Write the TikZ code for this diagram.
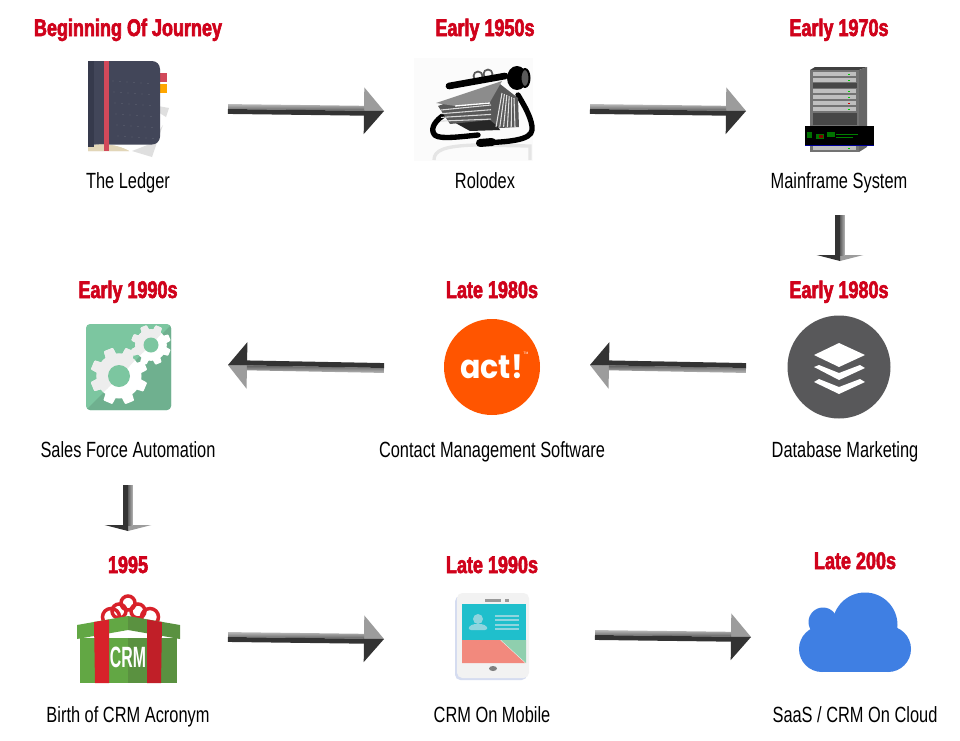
\documentclass[tikz,border=0pt]{standalone}
\usepackage{fontspec}
\usetikzlibrary{calc}
\setmainfont{Liberation Sans}
\newfontfamily\titlefont[FakeStretch=0.75,FakeBold=2.5]{Liberation Sans Bold}
\newfontfamily\labelfont[FakeStretch=0.745]{Liberation Sans}
\newfontfamily\actfont[FakeStretch=0.92]{Poppins Bold}
\newfontfamily\crmfont[FakeStretch=0.54]{Liberation Sans Bold}
\definecolor{titlered}{HTML}{D0021B}
\definecolor{arrgray}{HTML}{9C9C9C}
\definecolor{arrdark}{HTML}{333333}
\definecolor{cover}{HTML}{424659}
\definecolor{spine}{HTML}{363A4C}
\definecolor{ribbon}{HTML}{D2495A}
\definecolor{mint}{HTML}{7CC6A0}
\definecolor{mintd}{HTML}{6FB08F}
\definecolor{giftl}{HTML}{62A744}
\definecolor{giftd}{HTML}{5A9140}
\definecolor{giftr}{HTML}{D8212A}
\definecolor{giftrd}{HTML}{C01F28}
\definecolor{actorange}{HTML}{FF5500}
\definecolor{dbgray}{HTML}{58585A}
\definecolor{cloudblue}{HTML}{3F7FE3}
\definecolor{phonecyan}{HTML}{1FBFCC}
\definecolor{phonesalmon}{HTML}{F2897D}
\definecolor{phonegreen}{HTML}{8FCFAE}
\definecolor{phoneicon}{HTML}{8FD5DE}
\definecolor{phoneshadow}{HTML}{D5DCF0}
\definecolor{beige}{HTML}{E2D6B8}
\tikzset{
  x=.75pt,y=-.75pt,
  yeartext/.style={font=\titlefont\fontsize{18}{20}\selectfont,text=titlered,inner sep=0pt,anchor=base},
  nametext/.style={font=\labelfont\fontsize{16.5}{18}\selectfont,text=black,inner sep=0pt,anchor=base},
}
\newcommand\fatarrow[4]{%
  \coordinate (hb) at ($(#2)!#3*.75pt!(#1)$);
  \fill[arrgray] (hb) -- ($(hb)!17.5pt!90:(#2)$) -- (#2) -- cycle;
  \fill[arrdark] (hb) -- ($(hb)!17.5pt!-90:(#2)$) -- (#2) -- cycle;
  \shade[top color=arrgray!70!white,bottom color=arrgray!60!black,shading=axis,shading angle=#4]
     (#1) -- ($(#1)!3.7pt!90:(#2)$) -- ($(hb)!3.7pt!-90:(#1)$) -- (hb) -- cycle;
  \fill[arrdark] (#1) -- ($(#1)!3.7pt!-90:(#2)$) -- ($(hb)!3.7pt!90:(#1)$) -- (hb) -- cycle;
}
\newcommand\gearbody[4]{% x y router colour
  \begin{scope}[shift={(#1,#2)}]
    \fill[#4] (0,0) circle ({#3*.79});
    \foreach \a in {0,45,...,315}{
      \fill[#4,rotate=\a+22,rounded corners=.6pt] (-#3*.27,0) -- (-#3*.17,-#3) -- (#3*.17,-#3) -- (#3*.27,0) -- cycle;
    }
  \end{scope}
}
\begin{document}
\begin{tikzpicture}
\useasboundingbox (0,0) rectangle (960,740);
\fill[white] (0,0) rectangle (960,740);

% ---------- Ledger
\fill[ribbon] (158,73) rectangle (167,82);
\fill[orange!70!yellow] (158,84) rectangle (167,93);
\fill[gray!25] (158,106) -- (169,108) -- (166,117) -- (158,112) -- cycle;
\fill[gray!25] (132,151) -- (152,157) -- (163,125) -- (150,144) -- cycle;
\fill[beige] (88,151) -- (88,147) .. controls (95,143) and (115,143) .. (129,151) -- cycle;
\fill[cover,rounded corners=6pt] (70,61) rectangle (160,144.5);
\fill[white] (70,55) rectangle (88,150);
\fill[beige] (88,151) -- (88,147) .. controls (95,143) and (115,143) .. (129,151) -- cycle;
\fill[spine] (88,61) rectangle (94,147);
\foreach \i in {0,...,5}{\foreach \j in {0,...,5}{
   \fill[white!35!cover] (113+\i*7+\j*1,81+\j*11+\i*0.5) circle (.4);
}}
\fill[ribbon] (104,61) rectangle (109,151);

% ---------- Rolodex
\fill[black!1.5] (414,58) rectangle (533,161);
\draw[line width=2.5pt,black!10] (434,160) .. controls (434,150) and (445,146) .. (475,145) -- (530,146) -- (530,160);
\draw[line width=1.3pt,black!65] (478,76) circle (4.5);
\draw[line width=1.3pt,black!65] (488,74) circle (4.5);
\draw[line width=4pt,black,line cap=round] (444,115) .. controls (436,120) and (430,128) .. (434,134) .. controls (437,139) and (450,138) .. (478,135);
\draw[line width=4pt,black,line cap=round] (518,95) .. controls (524,105) and (533,120) .. (532,130) .. controls (531,140) and (510,142) .. (480,143);
\draw[line width=6pt,black,line cap=round] (480,143) -- (492,142);
\draw[line width=5pt,black,line cap=round] (449,86) -- (505,76);
\fill[black!85] (450,120) -- (494,120) -- (500,130) -- (470,131) -- cycle;
\fill[black!65] (438,106) -- (500,84) -- (518,98) -- (519,127) -- (500,128) -- (490,120) -- (450,124) -- (442,112) -- cycle;
\foreach \k in {0,1,2,3}{\draw[black!15,line width=.8pt] (441,{110+\k*3.7}) -- (491,{105+\k*4.7});}
\foreach \k in {0,...,5}{\draw[black!12,line width=.8pt] ({502+\k*2.4},{93+\k*1}) -- ({496+\k*3.8},127);}
\fill[black!45] (436,103) -- (502,81) -- (490,102) -- (455,106) -- cycle;
\draw[white,line width=1pt] (455,106) -- (490,103);
\fill[black] (517,78) ellipse (10 and 12);
\draw[black,line width=1.5pt,fill=black!65] (525,78) ellipse (4.5 and 9);

% ---------- Mainframe
\fill[black!75] (810,70) -- (815,67) -- (867,67) -- (859,70) -- cycle;
\fill[black!60] (859,70) -- (867,67) -- (867,147) -- (859,152) -- cycle;
\fill[black!55] (810,70) rectangle (859,152);
\fill[black!72] (813,83) rectangle (857,88);
\fill[black!72] (813,113) rectangle (857,125);
\foreach \ry/\cc in {72/green,78/green,89/green,95/green,101/red,107/green,146/green}{
  \fill[black!25] (813,\ry) rectangle (856,\ry+4.4);
  \fill[\cc!80!black] (847.5,\ry+1.6) rectangle (849.5,\ry+2.8);
}
\fill[black] (805,126) rectangle (874,146);
\fill[green!45!black] (807,132) rectangle (812,138);
\fill[green!45!black] (816,134) rectangle (824,139);
\fill[green!45!black] (827,132) rectangle (835,137);
\fill[red!50!black] (819,135) rectangle (823,138);
\draw[green!50!black,line width=.4pt] (836,134) -- (858,134) (836,137) -- (853,137);
\draw[blue!60!black,line width=.6pt] (805,145) -- (874,145);

% ---------- Database
\fill[dbgray] (839,367) circle (51.5);
\fill[white] (814,355) -- (839,343) -- (865,355) -- (839,367) -- cycle;
\fill[white] (814,367) -- (819,365) -- (839,373) -- (860,365) -- (865,368) -- (839,380) -- cycle;
\fill[white] (814,382) -- (819,379) -- (839,387) -- (860,379) -- (865,382) -- (839,394) -- cycle;

% ---------- Act
\fill[actorange] (492,367) circle (48);
\node[font=\actfont\fontsize{24.5}{26}\selectfont,text=white,inner sep=0pt,anchor=base] (actlogo) at (491.5,378) {act!};
\node[font=\fontsize{2.5}{3}\selectfont,text=white,inner sep=0pt] (tmmark) at (526,353) {TM};

% ---------- Gears
\fill[mint,rounded corners=3pt] (86,324) rectangle (171,410);
\begin{scope}
  \clip[rounded corners=3pt] (86,324) rectangle (171,410);
  \fill[mintd] (86,410) -- (171,325) -- (171,410) -- cycle;
\end{scope}
\gearbody{119}{376}{28.5}{white}
\gearbody{151}{345}{20}{white}
\begin{scope}
  \clip (86,324) -- (171,324) -- (86,410) -- cycle;
  \gearbody{119}{376}{28.5}{black!7}
  \gearbody{151}{345}{20}{black!7}
\end{scope}
\fill[mint] (119,376) circle (11);
\fill[mint] (151,345) circle (7.5);

% ---------- Gift
\foreach \cx/\cy/\cr in {128/603/7,119/611/7,138/611/7,111/617/8.5,150/617/8.5}{
  \draw[giftr,line width=2.6pt] (\cx,\cy) circle (\cr);
}
\fill[giftl] (80,638) rectangle (128,683);
\fill[giftd] (128,638) rectangle (177,683);
\fill[white] (100,625) -- (128,620) -- (156,625) -- (156,630) -- (100,630) -- cycle;
\fill[giftl] (77,625) -- (128,616) -- (128,630) -- (77,639) -- cycle;
\fill[giftd] (128,616) -- (180,625) -- (180,639) -- (128,630) -- cycle;
\fill[giftr] (94,622) -- (109,619.5) -- (109,683) -- (95,683) -- cycle;
\fill[giftrd] (147,619.5) -- (162,622) -- (161,683) -- (147,683) -- cycle;
\node[font=\crmfont\fontsize{22}{24}\selectfont,text=white,inner sep=0pt,anchor=base] (crmword) at (128,667) {CRM};

% ---------- Phone
\fill[phoneshadow,rounded corners=4pt] (455,596) rectangle (527,680);
\fill[black!5,rounded corners=4pt] (457,593) rectangle (529,678);
\fill[phonecyan] (462,604) rectangle (526,640);
\fill[phonesalmon] (462,640) -- (500,640) -- (525,663) -- (462,663) -- cycle;
\fill[phonegreen] (501,640) -- (526,640) -- (526,663) -- cycle;
\fill[black!40] (485,599) rectangle (501,602);
\fill[black!40] (505,599) rectangle (509,602);
\fill[black!50] (493,668.5) ellipse (4 and 2.5);
\fill[phoneicon] (478,619) circle (5);
\fill[phoneicon,rounded corners=3pt] (467,630) -- (471,624) -- (485,624) -- (489,630) -- cycle;
\foreach \ly in {616,620,625,629}{\draw[phoneicon,line width=.8pt] (495,\ly) -- (519,\ly);}

% ---------- Cloud
\fill[cloudblue] (822,626) rectangle (888,672);
\fill[cloudblue] (822,649) circle (23);
\fill[cloudblue] (888,649) circle (23);
\fill[cloudblue] (865,625) circle (32.5);
\fill[cloudblue] (823,622) circle (14.5);

% ---------- Year labels
\node[yeartext] (y1) at (128,36) {Beginning Of Journey};
\node[yeartext] (y2) at (485,36) {Early 1950s};
\node[yeartext] (y3) at (839,36) {Early 1970s};
\node[yeartext] (y4) at (839,298) {Early 1980s};
\node[yeartext] (y5) at (492,298) {Late 1980s};
\node[yeartext] (y6) at (128,298) {Early 1990s};
\node[yeartext] (y7) at (128,573) {1995};
\node[yeartext] (y8) at (492,573) {Late 1990s};
\node[yeartext] (y9) at (855,569) {Late 200s};

% ---------- Name labels
\node[nametext] (n1) at (128,188) {The Ledger};
\node[nametext] (n2) at (485,188) {Rolodex};
\node[nametext] (n3) at (839,188) {Mainframe System};
\node[nametext] (n4) at (845,457) {Database Marketing};
\node[nametext] (n5) at (492,457) {Contact Management Software};
\node[nametext] (n6) at (128,457) {Sales Force Automation};
\node[nametext] (n7) at (128,722) {Birth of CRM Acronym};
\node[nametext] (n8) at (492,722) {CRM On Mobile};
\node[nametext] (n9) at (855,722) {SaaS / CRM On Cloud};

% ---------- Arrows
\coordinate (a1s) at (228,109); \coordinate (a1e) at (384,111);
\coordinate (a2s) at (590,109); \coordinate (a2e) at (746,111);
\coordinate (a3s) at (840,215); \coordinate (a3e) at (840,261);
\coordinate (a4s) at (746,368); \coordinate (a4e) at (590,365);
\coordinate (a5s) at (384,368); \coordinate (a5e) at (228,365);
\coordinate (a6s) at (128,485); \coordinate (a6e) at (128,531);
\coordinate (a7s) at (228,637); \coordinate (a7e) at (384,639);
\coordinate (a8s) at (595,635); \coordinate (a8e) at (751,637);
\fatarrow{a1s}{a1e}{20}{0}
\fatarrow{a2s}{a2e}{20}{0}
\fatarrow{a3s}{a3e}{6}{-90}
\fatarrow{a4s}{a4e}{19}{180}
\fatarrow{a5s}{a5e}{19}{180}
\fatarrow{a6s}{a6e}{6}{-90}
\fatarrow{a7s}{a7e}{20}{0}
\fatarrow{a8s}{a8e}{20}{0}
\end{tikzpicture}
\end{document}
